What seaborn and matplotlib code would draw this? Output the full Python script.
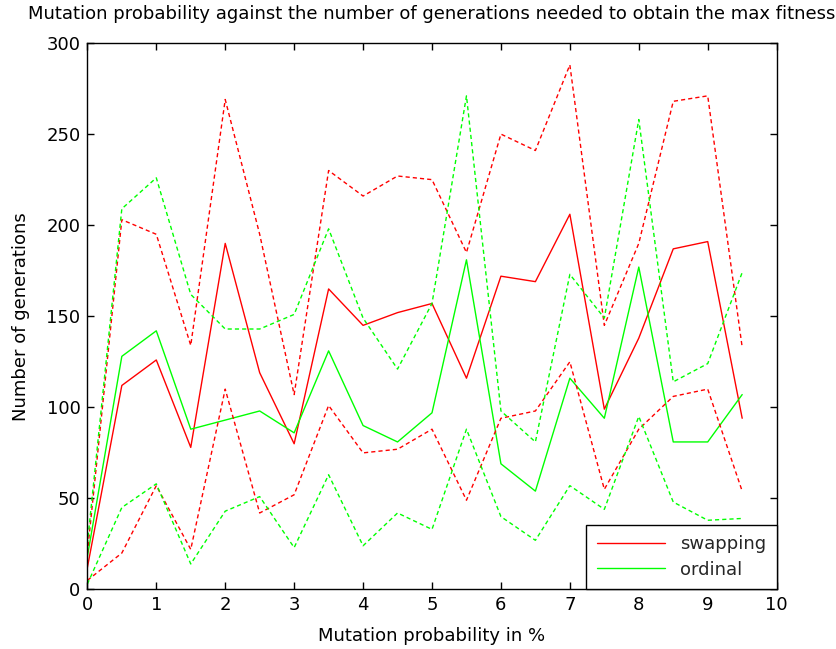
import matplotlib
matplotlib.use("Agg")
import matplotlib.pyplot as plt
import seaborn as sns
import pandas as pd

sns.set_theme(style="white")
plt.rcParams['font.family'] = ['DejaVu Sans']

mutation = [0, 0.5, 1, 1.5, 2, 2.5, 3, 3.5, 4, 4.5, 5, 5.5, 6, 6.5, 7, 7.5, 8, 8.5, 9, 9.5]

swap_mean = [12, 112, 126, 78, 190, 119, 80, 165, 145, 152, 157, 116, 172, 169, 206, 99, 138, 187, 191, 94]
swap_upper = [20, 203, 195, 134, 269, 195, 107, 230, 216, 227, 225, 185, 250, 241, 288, 145, 190, 268, 271, 133]
swap_lower = [5, 20, 57, 22, 110, 42, 52, 101, 75, 77, 88, 49, 94, 98, 125, 55, 88, 106, 110, 54]

ord_mean = [18, 128, 142, 88, 93, 98, 86, 131, 90, 81, 97, 181, 69, 54, 116, 94, 177, 81, 81, 107]
ord_upper = [25, 209, 226, 162, 143, 143, 151, 198, 149, 121, 157, 271, 98, 81, 173, 149, 258, 114, 124, 174]
ord_lower = [3, 45, 58, 14, 43, 51, 23, 63, 24, 42, 33, 88, 40, 27, 57, 44, 95, 48, 38, 39]

series_names = ["swapping", "ordinal"]
RED = "#ff0000"
GREEN = "#00ff00"

fig = plt.figure(figsize=(8.36, 6.49), dpi=100)
ax = fig.add_axes([0.1045, 0.0917, 0.8245, 0.842])

dash = (0, (3, 2.2))
lw = 1.0

sns.lineplot(x=mutation, y=swap_mean, ax=ax, color=RED, lw=lw, label=series_names[0])
sns.lineplot(x=mutation, y=ord_mean, ax=ax, color=GREEN, lw=lw, label=series_names[1])
sns.lineplot(x=mutation, y=swap_upper, ax=ax, color=RED, lw=lw, linestyle=dash, legend=False)
sns.lineplot(x=mutation, y=swap_lower, ax=ax, color=RED, lw=lw, linestyle=dash, legend=False)
sns.lineplot(x=mutation, y=ord_upper, ax=ax, color=GREEN, lw=lw, linestyle=dash, legend=False)
sns.lineplot(x=mutation, y=ord_lower, ax=ax, color=GREEN, lw=lw, linestyle=dash, legend=False)

ax.set_xlim(0, 10)
ax.set_ylim(0, 300)
ax.set_xticks(range(0, 11))
ax.set_yticks(range(0, 301, 50))

for s in ax.spines.values():
    s.set_visible(True)
    s.set_color("black")
    s.set_linewidth(1.0)

ax.tick_params(direction="in", length=5, width=1, color="black",
               top=True, right=True, bottom=True, left=True,
               labelsize=13, labelcolor="black", pad=5)

ax.set_xlabel("Mutation probability in %", fontsize=13, color="black", labelpad=9)
ax.set_ylabel("Number of generations", fontsize=13, color="black", labelpad=12)
ax.set_title("Mutation probability against the number of generations needed to obtain the max fitness",
             fontsize=13, color="black", pad=17)

handles, labels = ax.get_legend_handles_labels()
leg = ax.legend(handles[:2], labels[:2], loc="lower right", fontsize=13,
                frameon=True, fancybox=False, framealpha=1, edgecolor="black",
                borderaxespad=0, handlelength=3.8, borderpad=0.6, labelspacing=0.4)
leg.get_frame().set_linewidth(1.0)

fig.savefig("out.png", dpi=100, facecolor="white")
